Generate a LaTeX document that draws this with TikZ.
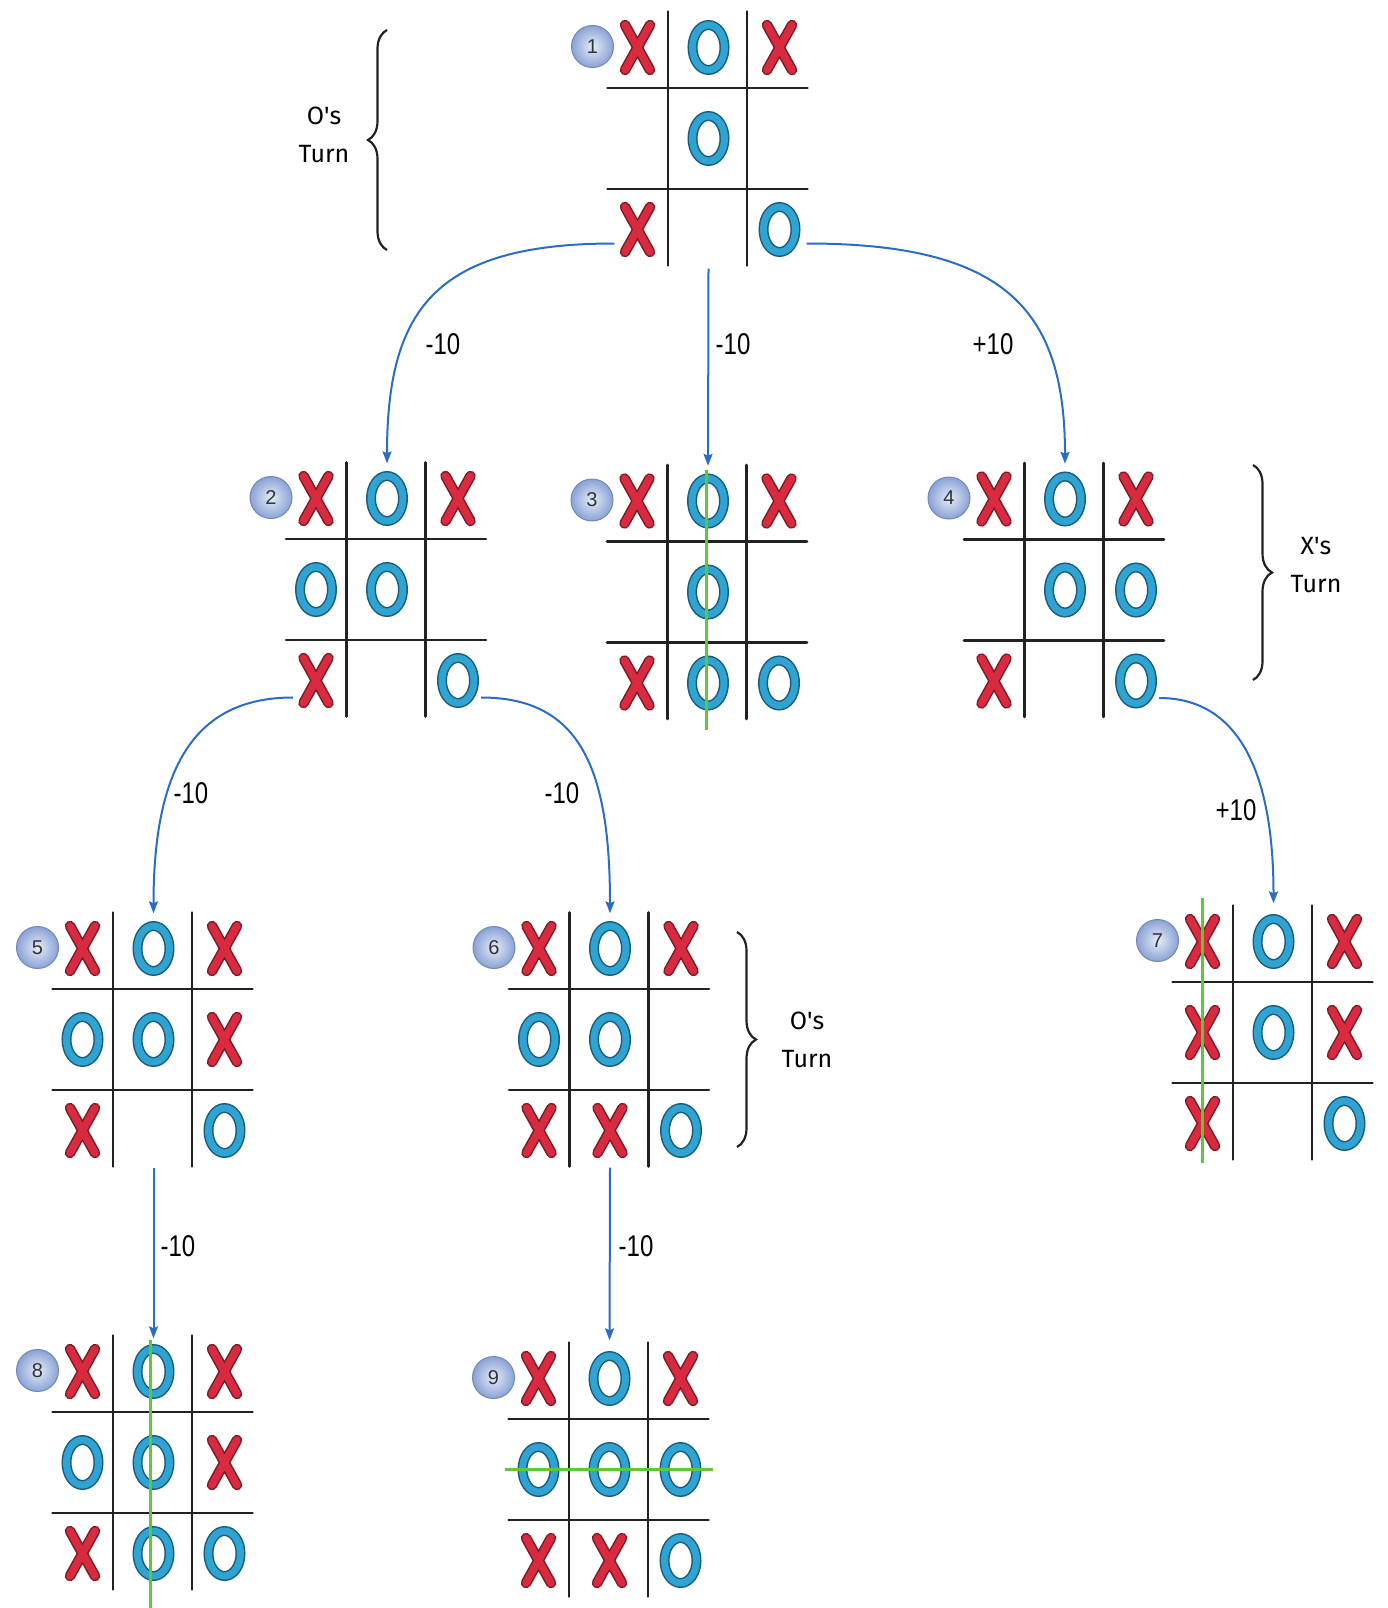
\documentclass[tikz,border=0pt]{standalone}
\usepackage{fontspec}
\setmainfont{Liberation Sans}
\newfontfamily\narrowfont[FakeStretch=0.8]{Liberation Sans}
\newfontfamily\turnfont{Fira Sans}
\usetikzlibrary{decorations.pathreplacing,arrows.meta}

\definecolor{xred}{HTML}{D92B40}
\definecolor{xdark}{HTML}{7D1A26}
\definecolor{oblue}{HTML}{2FA3D2}
\definecolor{odark}{HTML}{1B5C7C}
\definecolor{arrowblue}{HTML}{2B6CC4}
\definecolor{wingreen}{HTML}{5CC83A}
\definecolor{badgein}{HTML}{E4ECF9}
\definecolor{badgeout}{HTML}{8AA2D4}
\definecolor{badgeedge}{HTML}{7088BC}
\definecolor{gridcol}{HTML}{222222}

\tikzset{
  gridline/.style={draw=gridcol, line width=2.6pt, line cap=round},
  xouter/.style={draw=xdark, line width=10.5pt, line cap=round},
  xinner/.style={draw=xred, line width=7.5pt, line cap=round},
  oouter/.style={draw=odark, line width=10pt},
  oinner/.style={draw=oblue, line width=7pt},
  cellnode/.style={inner sep=0pt, minimum width=46pt, minimum height=56pt},
  badge/.style={circle, minimum size=42pt, inner sep=0pt, draw=badgeedge, line width=1pt,
    inner color=badgein, outer color=badgeout, font=\fontsize{20}{20}\selectfont, text=black!80},
  movearrow/.style={draw=arrowblue, line width=2pt, -{Stealth[length=12pt,width=9pt,inset=2pt]}, shorten >=7pt},
  score/.style={font=\narrowfont\fontsize{30}{30}\selectfont, inner sep=0pt},
  turnlabel/.style={font=\turnfont\fontsize{25}{38}\selectfont, align=center, inner sep=0pt},
  bracedeco/.style={decorate, decoration={brace, amplitude=19pt}, draw=gridcol, line width=2.2pt},
  winline/.style={draw=wingreen, line width=3pt},
  xmark/.pic={
    \draw[xouter] (-12.5,-22.5) -- (12.5,22.5) (12.5,-22.5) -- (-12.5,22.5);
    \draw[xinner] (-12.5,-22.5) -- (12.5,22.5) (12.5,-22.5) -- (-12.5,22.5);
  },
  omark/.pic={
    \draw[oouter] (0,0) ellipse [x radius=16pt, y radius=22.5pt];
    \draw[oinner] (0,0) ellipse [x radius=16pt, y radius=22.5pt];
  },
}

\newcommand\tttboard[5]{%
  \begin{scope}[shift={(#2,#3)}]
    \coordinate (#1) at (0,0);
    \draw[gridline] (-39.5,-127) -- (-39.5,127);
    \draw[gridline] (39.5,-127) -- (39.5,127);
    \draw[gridline] (-100,-50.5) -- (100,-50.5);
    \draw[gridline] (-100,50.5) -- (100,50.5);
    \node[badge] (#1-badge) at (-115,-92) {#4};
    \foreach \s [count=\i from 0] in {#5}{%
      \pgfmathtruncatemacro\rr{floor(\i/3)+1}%
      \pgfmathtruncatemacro\cc{mod(\i,3)+1}%
      \pgfmathsetmacro\px{-70+71*(\cc-1)}%
      \pgfmathsetmacro\py{-91+91*(\rr-1)}%
      \node[cellnode] (#1-\rr\cc) at (\px,\py) {};
      \if\s X\pic at (\px,\py) {xmark};\fi
      \if\s O\pic at (\px,\py) {omark};\fi
    }
  \end{scope}}

\begin{document}
\begin{tikzpicture}[x=1pt,y=-1pt]
  \fill[white] (0,0) rectangle (1388,1608);
  \useasboundingbox (0,0) rectangle (1388,1608);

  \tttboard{b1}{707.5}{138.5}{1}{X,O,X,E,O,E,X,E,O}
  \tttboard{b2}{386}{589.5}{2}{X,O,X,O,O,E,X,E,O}
  \tttboard{b3}{707}{592}{3}{X,O,X,E,O,E,X,O,O}
  \tttboard{b4}{1064}{590}{4}{X,O,X,E,O,O,X,E,O}
  \tttboard{b5}{152.5}{1039.5}{5}{X,O,X,O,O,X,X,E,O}
  \tttboard{b6}{609}{1039.5}{6}{X,O,X,O,O,E,X,X,O}
  \tttboard{b7}{1272.5}{1032.5}{7}{X,O,X,X,O,X,X,E,O}
  \tttboard{b8}{152.5}{1462.5}{8}{X,O,X,O,O,X,X,O,O}
  \tttboard{b9}{608.5}{1469.5}{9}{X,O,X,O,O,O,X,X,O}

  % winning lines
  \draw[winline] ([shift={(-1,-122)}]b3) -- ([shift={(-1,138)}]b3);
  \draw[winline] ([shift={(-70.5,-134.5)}]b7) -- ([shift={(-70.5,130.5)}]b7);
  \draw[winline] ([shift={(-2.5,-122.5)}]b8) -- ([shift={(-2.5,150)}]b8);
  \draw[winline] ([shift={(-103.5,-0.5)}]b9) -- ([shift={(104.5,-0.5)}]b9);

  % moves
  \draw[movearrow] ([yshift=-14pt]b1-31.west) .. controls +(-180,0) and +(0,-160) .. (b2-12.north);
  \draw[movearrow] ([yshift=-11pt]b1-32.south) -- (b3-12.north);
  \draw[movearrow] ([xshift=4pt,yshift=-14pt]b1-33.east) .. controls +(200,0) and +(0,-160) .. (b4-12.north);
  \draw[movearrow] ([yshift=-17pt]b2-31.west) .. controls +(-100,0) and +(0,-150) .. (b5-12.north);
  \draw[movearrow] ([yshift=-17pt]b2-33.east) .. controls +(100,0) and +(0,-150) .. (b6-12.north);
  \draw[movearrow, shorten >=10pt] ([yshift=-17pt]b4-33.east) .. controls +(80,0) and +(0,-140) .. (b7-12.north);
  \draw[movearrow, shorten >=5pt] ([yshift=-9pt]b5-32.south) -- (b8-12.north);
  \draw[movearrow, shorten >=10pt] ([yshift=-9pt]b6-32.south) -- (b9-12.north);

  % scores
  \node[score] (s12) at (443,344) {-10};
  \node[score] (s13) at (733,344) {-10};
  \node[score] (s14) at (993,344) {+10};
  \node[score] (s25) at (191,793) {-10};
  \node[score] (s26) at (562,793) {-10};
  \node[score] (s47) at (1236,810) {+10};
  \node[score] (s58) at (178,1246) {-10};
  \node[score] (s69) at (636,1246) {-10};

  % braces
  \coordinate (br1a) at (387,250);
  \coordinate (br1b) at (387,30);
  \draw[bracedeco] (br1a) -- (br1b);
  \node[turnlabel] (t1) at (324,135) {O\textquotesingle s\\Turn};

  \coordinate (br2a) at (1253,465);
  \coordinate (br2b) at (1253,680);
  \draw[bracedeco] (br2a) -- (br2b);
  \node[turnlabel] (t2) at (1316,565) {X\textquotesingle s\\Turn};

  \coordinate (br3a) at (737,932);
  \coordinate (br3b) at (737,1147);
  \draw[bracedeco] (br3a) -- (br3b);
  \node[turnlabel] (t3) at (807,1040) {O\textquotesingle s\\Turn};
\end{tikzpicture}
\end{document}
